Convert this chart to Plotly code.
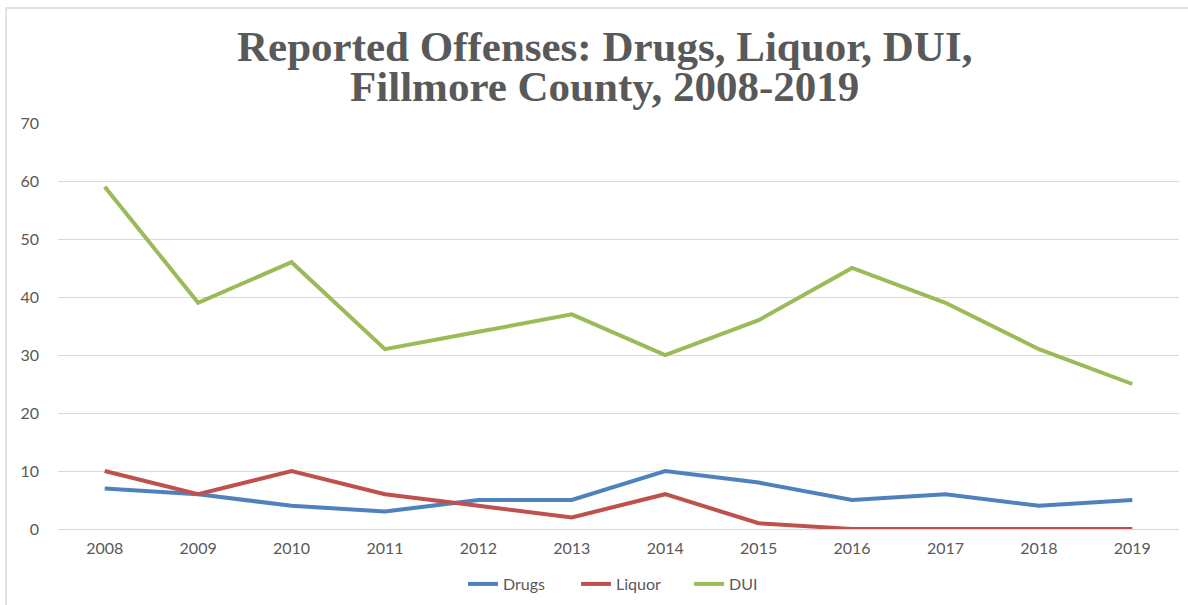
import plotly.graph_objects as go

years = ["2008", "2009", "2010", "2011", "2012", "2013", "2014", "2015", "2016", "2017", "2018", "2019"]
drugs = [7, 6, 4, 3, 5, 5, 10, 8, 5, 6, 4, 5]
liquor = [10, 6, 10, 6, 4, 2, 6, 1, 0, 0, 0, 0]
dui = [59, 39, 46, 31, 34, 37, 30, 36, 45, 39, 31, 25]

title_line1 = "Reported Offenses: Drugs, Liquor, DUI,"
title_line2 = "Fillmore County, 2008-2019"

W, H = 1188, 605
L, R, T, B = 58, 9, 123, 76
pw, ph = W - L - R, H - T - B

def px_to_paper_x(px):
    return (px - L) / pw

def px_to_paper_y(py):
    return (H - B - py) / ph

fig = go.Figure()
for name, vals, color in [("Drugs", drugs, "#4F81BD"), ("Liquor", liquor, "#C0504D"), ("DUI", dui, "#9BBB59")]:
    fig.add_trace(go.Scatter(x=years, y=vals, name=name, mode="lines",
                             line=dict(color=color, width=4), cliponaxis=False))

tick_font = dict(family="Lato, Calibri, sans-serif", size=16, color="#595959")
title_font = dict(family="Liberation Serif, Times New Roman, serif", size=43, color="#595959")

fig.update_layout(
    width=W, height=H,
    margin=dict(l=L, r=R, t=T, b=B, autoexpand=False),
    paper_bgcolor="white", plot_bgcolor="white",
    showlegend=True,
    legend=dict(orientation="h", xref="container", yref="container",
                x=463 / W, xanchor="left", y=1 - 584 / H, yanchor="middle",
                font=tick_font, entrywidth=68, entrywidthmode="pixels",
                traceorder="normal", bgcolor="rgba(0,0,0,0)"),
    xaxis=dict(type="category", range=[-0.5, 11.5], showgrid=False, zeroline=False, showline=False,
               ticks="", tickfont=tick_font, ticklabelstandoff=8),
    yaxis=dict(range=[0, 70], dtick=10, showgrid=True, gridcolor="#D9D9D9", gridwidth=1,
               zeroline=True, zerolinecolor="#D9D9D9", zerolinewidth=1, showline=False,
               ticks="", tickfont=tick_font, ticklabelstandoff=18),
    annotations=[
        dict(text=f"<b>{title_line1}</b>", x=px_to_paper_x(604), y=px_to_paper_y(46.5),
             xref="paper", yref="paper", xanchor="center", yanchor="middle", showarrow=False,
             font=title_font),
        dict(text=f"<b>{title_line2}</b>", x=px_to_paper_x(604), y=px_to_paper_y(86),
             xref="paper", yref="paper", xanchor="center", yanchor="middle", showarrow=False,
             font=title_font),
    ],
    shapes=[
        dict(type="rect", xref="paper", yref="paper",
             x0=px_to_paper_x(6), x1=px_to_paper_x(1200), y0=px_to_paper_y(620), y1=px_to_paper_y(8),
             line=dict(color="#D9D9D9", width=1.5), fillcolor="rgba(0,0,0,0)", layer="below"),
    ],
)

fig.write_html("out.html", config={"displayModeBar": False},
               post_script="document.body.style.margin='0';")
